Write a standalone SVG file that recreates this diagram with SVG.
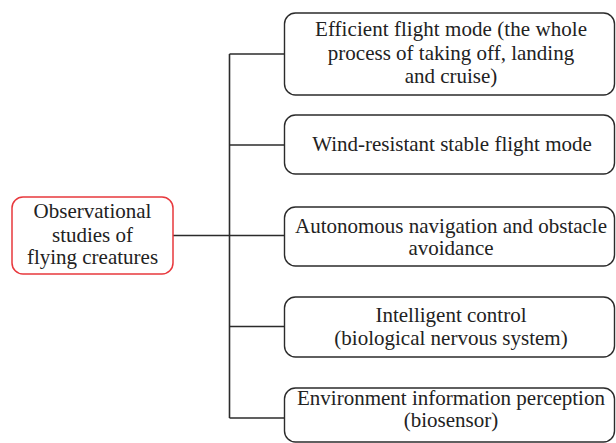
<svg xmlns="http://www.w3.org/2000/svg" width="616" height="443" viewBox="0 0 616 443">
  <style>
    .box { fill: #ffffff; stroke: #2b2b2b; stroke-width: 1.4; }
    .root { fill: #ffffff; stroke: #e8383d; stroke-width: 1.5; }
    .lbl { font-family: "Liberation Serif", "Times New Roman", serif; font-size: 21px; fill: #222222; text-anchor: middle; }
    .wire { fill: none; stroke: #2b2b2b; stroke-width: 1.6; }
  </style>
  <rect width="616" height="443" fill="#ffffff"/>

  <g id="connectors">
    <path class="wire" d="M173 235.5 H284.5"/>
    <path class="wire" d="M229.5 54 V418"/>
    <path class="wire" d="M229.5 54 H284.5"/>
    <path class="wire" d="M229.5 145 H284.5"/>
    <path class="wire" d="M229.5 326.5 H284.5"/>
    <path class="wire" d="M229.5 418 H284.5"/>
  </g>

  <g id="root-node">
    <rect class="root" x="12" y="197" width="161" height="77" rx="11"/>
    <text class="lbl" x="92.5" y="218">Observational</text>
    <text class="lbl" x="92.5" y="241.5">studies of</text>
    <text class="lbl" x="92.5" y="263.5">flying creatures</text>
  </g>

  <g id="node-flight-mode">
    <rect class="box" x="284.5" y="13" width="330" height="82" rx="11"/>
    <text class="lbl" x="451" y="35.5" textLength="272">Efficient flight mode (the whole</text>
    <text class="lbl" x="451" y="59.5">process of taking off, landing</text>
    <text class="lbl" x="451" y="83">and cruise)</text>
  </g>

  <g id="node-wind-resistant">
    <rect class="box" x="284.5" y="115" width="330" height="59" rx="11"/>
    <text class="lbl" x="452" y="150.5">Wind-resistant stable flight mode</text>
  </g>

  <g id="node-navigation">
    <rect class="box" x="284.5" y="207" width="330" height="59" rx="11"/>
    <text class="lbl" x="451" y="232.5">Autonomous navigation and obstacle</text>
    <text class="lbl" x="451" y="255">avoidance</text>
  </g>

  <g id="node-control">
    <rect class="box" x="284.5" y="297" width="330" height="60" rx="11"/>
    <text class="lbl" x="451" y="322">Intelligent control</text>
    <text class="lbl" x="451" y="345">(biological nervous system)</text>
  </g>

  <g id="node-perception">
    <rect class="box" x="284.5" y="388" width="330" height="54" rx="11"/>
    <text class="lbl" x="451" y="405">Environment information perception</text>
    <text class="lbl" x="451" y="427">(biosensor)</text>
  </g>
</svg>
